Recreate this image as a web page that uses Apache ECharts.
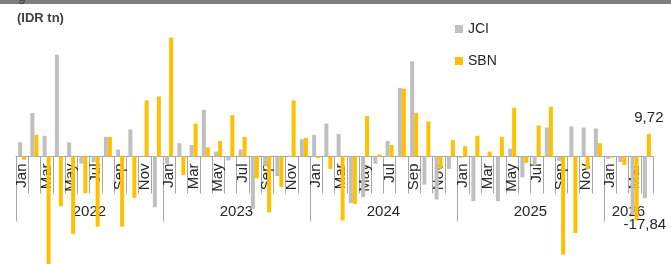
<!DOCTYPE html>
<html>
<head>
<meta charset="utf-8">
<script src="https://cdn.jsdelivr.net/npm/echarts@6/dist/echarts.min.js"></script>
<style>
    html, body { margin: 0; padding: 0; background: #ffffff; }
    #chart { width: 671px; height: 264px; }
</style>
</head>
<body>
<div id="chart"></div>
<script>
const monthNames = ["Jan", "Feb", "Mar", "Apr", "May", "Jun", "Jul", "Aug", "Sep", "Oct", "Nov", "Dec"];
const years = ["2022", "2023", "2024", "2025", "2026"];
const monthsPerYear = [12, 12, 12, 12, 4];

// monthly net flows, IDR tn (Jan 2022 .. Apr 2026)
const jciFlows = [
    6.1, 18.6, 8.9, 43.6, 6.1, -3.1, -2.4, 8.4, 3.0, 11.6, 0.3, -21.7,
    -3.1, 5.7, 4.9, 20.0, 2.1, -1.7, 3.0, -22.4, -4.0, -8.4, 0.3, 7.4,
    9.3, 14.1, 9.7, -19.9, -17.4, -3.1, 6.6, 29.4, 40.7, -12.0, -18.4, -5.3,
    -0.5, -19.1, -0.3, -19.1, 3.4, -8.9, -3.9, 12.4, -2.0, 12.9, 12.4, 12.0,
    -1.0, -2.4, -25.0, -17.84
];
const sbnFlows = [
    -1.4, 9.3, -50.0, -21.3, -33.1, -15.7, -30.0, 8.4, -30.0, -17.7, 24.0, 25.7,
    50.9, -7.9, 14.1, 3.9, 6.6, 17.7, 8.4, -9.3, -23.9, -13.1, 24.0, 8.0,
    -0.7, -5.3, -27.4, -20.3, 17.3, 0.9, 4.9, 29.0, 18.6, 15.0, -5.3, 7.0,
    4.4, 8.9, 2.1, 8.4, 20.9, -2.7, 13.3, 21.3, -42.0, -32.7, -5.3, 5.7,
    -0.5, -3.6, -27.4, 9.72
];

const TEXT_COLOR = "#262626";
const AXIS_COLOR = "#a6a6a6";
const FONT = "Liberation Sans";

const Y_MIN = -46;
const Y_MAX = 55;
const PLOT_TOP = 28;
const PLOT_HEIGHT = 236;
const GRID_LEFT = 16;
const GRID_RIGHT = 18;
const MONTH_TICK_LEN = 37;
// the month/year axis sits in its own thin grid lined up with the zero line
const zeroY = PLOT_TOP + PLOT_HEIGHT * Y_MAX / (Y_MAX - Y_MIN);

const categories = [];
const yearStarts = [];
const yearLabelAt = [];
years.forEach((year, y) => {
    yearStarts.push(categories.length);
    yearLabelAt.push(categories.length + monthsPerYear[y] / 2 - 1);
    for (let m = 0; m < monthsPerYear[y]; m++) {
        categories.push(monthNames[m] + " " + year);
    }
});

const count = categories.length;
// reversed + inverse axis: the extra end tick lands on the left edge
const reversedCategories = categories.slice().reverse();

function commaLabel(params) {
    return String(params.value).replace(".", ",");
}

function withEndLabel(values, position, distance) {
    return values.map((v, i) => {
        if (i !== values.length - 1) {
            return v;
        }
        return {
            value: v,
            label: {
                show: true,
                position: position,
                distance: distance,
                formatter: commaLabel,
                fontFamily: FONT,
                fontSize: 15,
                color: TEXT_COLOR
            }
        };
    });
}

const chart = echarts.init(document.getElementById("chart"));

chart.setOption({
    animation: false,
    title: {
        text: "(IDR tn)",
        left: 12,
        top: 7,
        textStyle: {
            fontFamily: FONT,
            fontSize: 13,
            fontWeight: "bold",
            color: "#404040"
        }
    },
    legend: {
        data: ["JCI", "SBN"],
        orient: "vertical",
        left: 450,
        top: 17,
        itemWidth: 8,
        itemHeight: 8,
        itemGap: 18,
        icon: "rect",
        textStyle: {
            fontFamily: FONT,
            fontSize: 14,
            color: TEXT_COLOR
        }
    },
    graphic: [
        {
            type: "rect",
            shape: { x: 0, y: 0, width: 671, height: 4 },
            style: { fill: "#7f7f7f" },
            silent: true
        },
        {
            type: "text",
            left: 18,
            top: -10,
            style: { text: "g", fontFamily: FONT, fontSize: 14, fill: "#404040" },
            silent: true
        }
    ],
    grid: [
        {
            left: GRID_LEFT,
            right: GRID_RIGHT,
            top: PLOT_TOP,
            height: PLOT_HEIGHT,
            outerBoundsMode: "none"
        },
        {
            left: GRID_LEFT,
            right: GRID_RIGHT,
            top: zeroY - 1,
            height: 1,
            outerBoundsMode: "none"
        },
        {
            // month separators drawn as split lines of a strip under the zero line
            left: GRID_LEFT,
            right: GRID_RIGHT,
            top: zeroY,
            height: MONTH_TICK_LEN,
            outerBoundsMode: "none"
        }
    ],
    xAxis: [
        {
            type: "category",
            gridIndex: 0,
            data: categories,
            show: false
        },
        {
            type: "category",
            gridIndex: 1,
            data: categories,
            position: "bottom",
            axisLine: {
                onZero: false,
                lineStyle: { color: AXIS_COLOR, width: 1 }
            },
            axisTick: { show: false },
            axisLabel: {
                interval: 1,
                rotate: 90,
                margin: 7,
                fontFamily: FONT,
                fontSize: 15,
                color: TEXT_COLOR,
                formatter: value => value.split(" ")[0]
            }
        },
        {
            type: "category",
            gridIndex: 1,
            data: reversedCategories,
            inverse: true,
            position: "bottom",
            axisLine: { show: false, onZero: false },
            axisTick: {
                show: true,
                interval: index => yearStarts.includes(count - index) && index !== 0,
                length: 65,
                lineStyle: { color: AXIS_COLOR }
            },
            axisLabel: {
                show: true,
                interval: index => yearLabelAt.includes(count - 1 - index),
                margin: 48,
                formatter: value => "{y|" + value.split(" ")[1] + "}",
                rich: {
                    y: {
                        fontFamily: FONT,
                        fontSize: 15,
                        color: TEXT_COLOR,
                        padding: [0, 0, 0, 12]
                    }
                }
            }
        },
        {
            type: "category",
            gridIndex: 2,
            data: categories,
            position: "bottom",
            axisLine: { show: false, onZero: false },
            axisTick: { show: false },
            axisLabel: { show: false },
            splitLine: {
                show: true,
                interval: 0,
                showMinLine: true,
                showMaxLine: true,
                lineStyle: { color: AXIS_COLOR, width: 1 }
            }
        }
    ],
    yAxis: [
        { type: "value", gridIndex: 0, min: Y_MIN, max: Y_MAX, show: false },
        { type: "value", gridIndex: 1, min: 0, max: 1, show: false },
        { type: "value", gridIndex: 2, min: 0, max: 1, show: false }
    ],
    series: [
        {
            name: "JCI",
            type: "bar",
            xAxisIndex: 0,
            yAxisIndex: 0,
            barWidth: 4,
            barGap: "0%",
            itemStyle: { color: "#bfbfbf" },
            data: withEndLabel(jciFlows, "bottom", 19)
        },
        {
            name: "SBN",
            type: "bar",
            xAxisIndex: 0,
            yAxisIndex: 0,
            barWidth: 4,
            barGap: "0%",
            itemStyle: { color: "#ffc000" },
            data: withEndLabel(sbnFlows, "top", 8)
        }
    ]
});
</script>
</body>
</html>
